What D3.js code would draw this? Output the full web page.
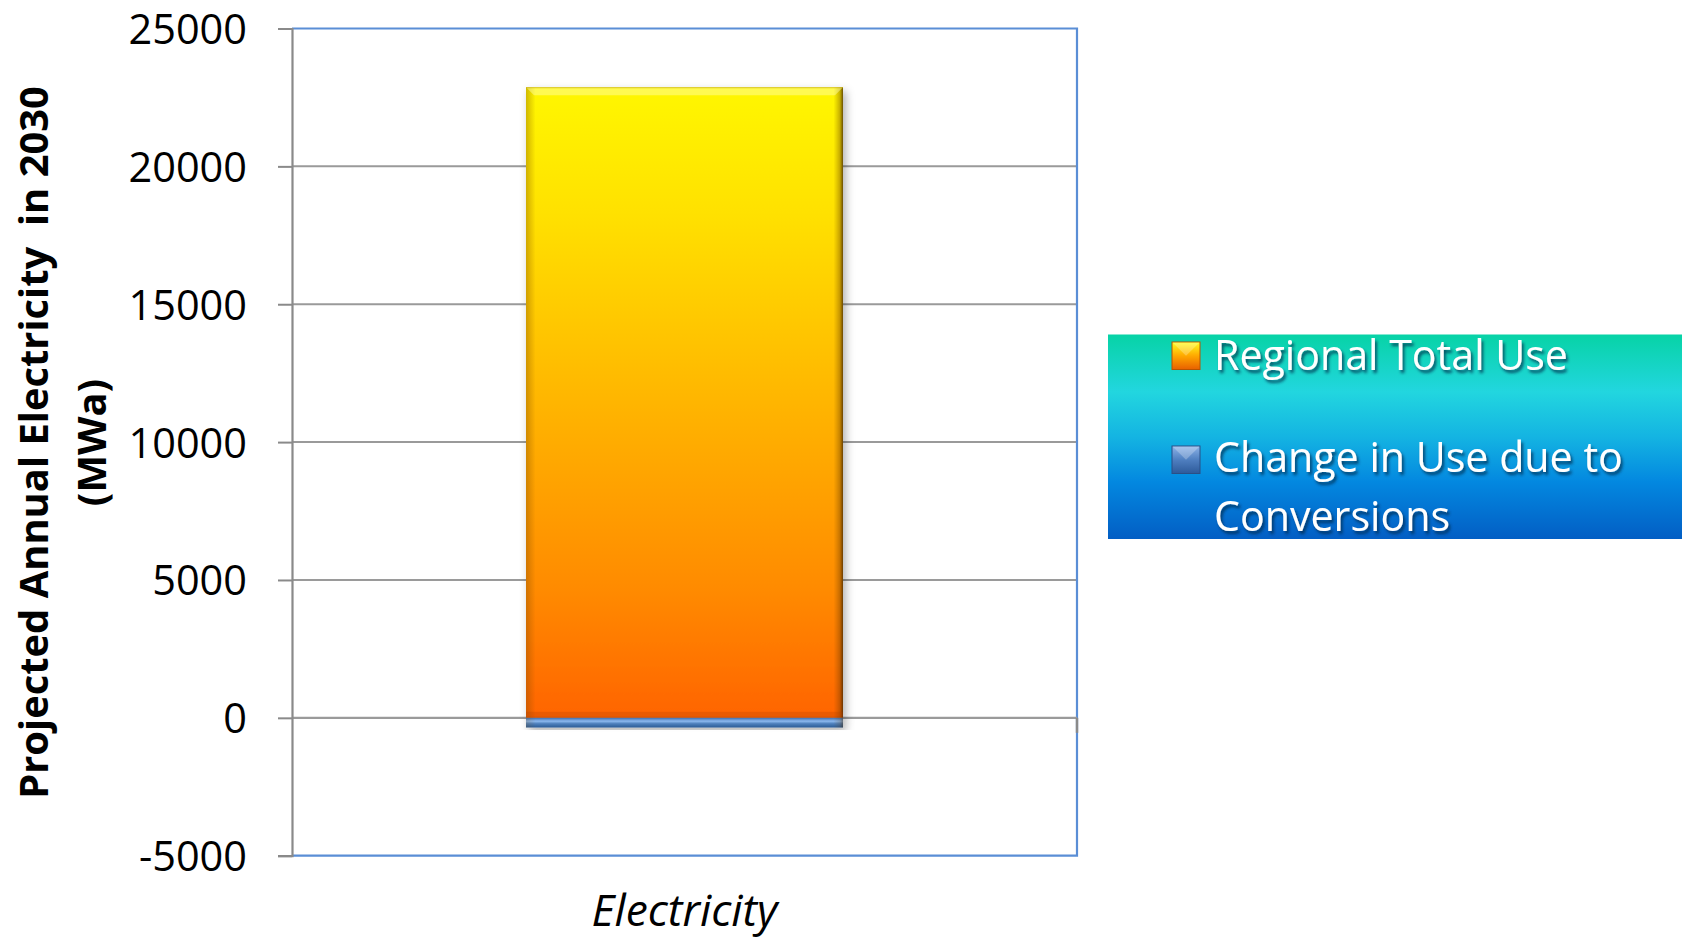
<!DOCTYPE html>
<html>
<head>
<meta charset="utf-8">
<script src="https://cdn.jsdelivr.net/npm/d3@7"></script>
<style>
  html, body { margin: 0; padding: 0; background: #fff; }
  svg { display: block; }
  text { font-family: "Open Sans", "DejaVu Sans", sans-serif; }
</style>
</head>
<body>
<script>
// ---- data ----
const categories = ["Electricity"];
const seriesNames = ["Regional Total Use", "Change in Use due to Conversions"];
const legendLines = [["Regional Total Use"], ["Change in Use due to", "Conversions"]];
const regionalTotalUse = [22870];
const changeInUse = [-350];
const yTicks = [-5000, 0, 5000, 10000, 15000, 20000, 25000];
const yTitleLines = ["Projected Annual Electricity  in 2030", "(MWa)"];

// ---- layout ----
const W = 1682, H = 942;
const plot = { left: 292, right: 1077, top: 28.5, bottom: 855.7 };

const svg = d3.select("body").append("svg").attr("width", W).attr("height", H);
const defs = svg.append("defs");

function fitText(sel, target) {
  sel.style("font-size", "100px");
  const len = sel.node().getComputedTextLength();
  const fs = 100 * target / len;
  sel.style("font-size", fs + "px");
  return fs;
}

// gradients
const gOr = defs.append("linearGradient").attr("id", "gOrange").attr("x1", 0).attr("y1", 0).attr("x2", 0).attr("y2", 1);
[[0, "#fff700"], [0.2, "#ffe100"], [0.5, "#ffb500"], [0.8, "#ff8a00"], [1, "#ff6400"]]
  .forEach(([o, c]) => gOr.append("stop").attr("offset", o).attr("stop-color", c));
const gBl = defs.append("linearGradient").attr("id", "gBlue").attr("x1", 0).attr("y1", 0).attr("x2", 0).attr("y2", 1);
[[0, "#3f6fb0"], [0.35, "#8cb8ee"], [0.6, "#4f81bd"], [1, "#2c5b96"]]
  .forEach(([o, c]) => gBl.append("stop").attr("offset", o).attr("stop-color", c));
const gEdge = defs.append("linearGradient").attr("id", "gEdge").attr("x1", 0).attr("y1", 0).attr("x2", 1).attr("y2", 0);
[[0, "rgba(120,70,0,0.35)"], [0.03, "rgba(120,70,0,0)"], [0.97, "rgba(120,70,0,0)"], [0.99, "rgba(90,50,0,0.35)"], [1, "rgba(70,40,0,0.8)"]]
  .forEach(([o, c]) => gEdge.append("stop").attr("offset", o).attr("stop-color", c));
const gLeg = defs.append("linearGradient").attr("id", "gLegend").attr("x1", 0).attr("y1", 0).attr("x2", 0).attr("y2", 1);
[[0, "#07d3a6"], [0.28, "#22d6df"], [0.5, "#14b4e2"], [0.72, "#0388e0"], [1, "#035ec4"]]
  .forEach(([o, c]) => gLeg.append("stop").attr("offset", o).attr("stop-color", c));
const gMkO = defs.append("linearGradient").attr("id", "gMkO").attr("x1", 0).attr("y1", 0).attr("x2", 0).attr("y2", 1);
[[0, "#ffff20"], [0.5, "#ffa800"], [1, "#e86000"]].forEach(([o, c]) => gMkO.append("stop").attr("offset", o).attr("stop-color", c));
const gMkB = defs.append("linearGradient").attr("id", "gMkB").attr("x1", 0).attr("y1", 0).attr("x2", 0).attr("y2", 1);
[[0, "#8db3e8"], [0.5, "#4f7fc0"], [1, "#2d5a9a"]].forEach(([o, c]) => gMkB.append("stop").attr("offset", o).attr("stop-color", c));

const shadow = defs.append("filter").attr("id", "barShadow").attr("x", "-10%").attr("y", "-10%").attr("width", "130%").attr("height", "130%");
shadow.append("feDropShadow").attr("dx", 3).attr("dy", 4).attr("stdDeviation", 4).attr("flood-color", "#000").attr("flood-opacity", 0.3);
const tshadow = defs.append("filter").attr("id", "txtShadow").attr("x", "-10%").attr("y", "-30%").attr("width", "130%").attr("height", "170%");
tshadow.append("feDropShadow").attr("dx", 2).attr("dy", 3).attr("stdDeviation", 1.6).attr("flood-color", "#02264a").attr("flood-opacity", 0.75);

// scales
const y = d3.scaleLinear().domain([d3.min(yTicks), d3.max(yTicks)]).range([plot.bottom, plot.top]);
const x = d3.scaleBand().domain(categories).range([plot.left, plot.right]).padding(0.4247);

// gridlines
svg.append("g").selectAll("line").data(yTicks.filter(t => t !== 0 && t !== d3.max(yTicks) && t !== d3.min(yTicks)))
  .join("line")
  .attr("x1", plot.left).attr("x2", plot.right)
  .attr("y1", d => y(d)).attr("y2", d => y(d))
  .attr("stroke", "#9a9a9a").attr("stroke-width", 2);

// plot border (top, right, bottom) blue
svg.append("path")
  .attr("d", `M${plot.left},${y(d3.max(yTicks))}H${plot.right}V${y(d3.min(yTicks))}H${plot.left}`)
  .attr("fill", "none").attr("stroke", "#5a8ed6").attr("stroke-width", 2.2);

// zero (category) axis
svg.append("line").attr("x1", plot.left).attr("x2", plot.right).attr("y1", y(0)).attr("y2", y(0))
  .attr("stroke", "#9a9a9a").attr("stroke-width", 2.2);
svg.append("g").selectAll("line").data([plot.right]).join("line")
  .attr("x1", d => d).attr("x2", d => d).attr("y1", y(0)).attr("y2", y(0) + 15)
  .attr("stroke", "#8a8a8a").attr("stroke-width", 2.5);

// y axis
const yAxis = d3.axisLeft(y).tickValues(yTicks).tickSize(14).tickPadding(31).tickFormat(d => String(d));
const ya = svg.append("g").attr("transform", `translate(${plot.left},0)`).call(yAxis);
ya.select(".domain").attr("stroke", "#8a8a8a").attr("stroke-width", 2.2);
ya.selectAll(".tick line").attr("stroke", "#8a8a8a").attr("stroke-width", 2);
const tl = ya.selectAll(".tick text").attr("fill", "#000").attr("font-family", "Open Sans");
let tickFs = 40;
tl.filter(d => d === 25000).each(function () { tickFs = fitText(d3.select(this), 118.5); });
tl.style("font-size", tickFs + "px").attr("dy", "0.36em");

// bars
const bw = x.bandwidth();
function bevelBar(g, x0, y0, w, h, fill, edgeOpacity) {
  g.append("rect").attr("x", x0).attr("y", y0).attr("width", w).attr("height", h)
    .attr("fill", fill).attr("filter", "url(#barShadow)");
  g.append("rect").attr("x", x0).attr("y", y0).attr("width", w).attr("height", h)
    .attr("fill", "url(#gEdge)").attr("opacity", edgeOpacity);
}
const barsG = svg.append("g");
categories.forEach((c, i) => {
  const x0 = x(c);
  const yTop = y(regionalTotalUse[i]);
  bevelBar(barsG, x0, yTop, bw, y(0) - yTop, "url(#gOrange)", 1);
  barsG.append("polygon")
    .attr("points", `${x0},${yTop} ${x0 + bw},${yTop} ${x0 + bw - 8},${yTop + 8} ${x0 + 8},${yTop + 8}`)
    .attr("fill", "rgba(255,255,180,0.45)");
  barsG.append("line").attr("x1", x0).attr("x2", x0 + bw).attr("y1", yTop + 0.5).attr("y2", yTop + 0.5)
    .attr("stroke", "rgba(190,160,0,0.6)").attr("stroke-width", 1);
  barsG.append("rect").attr("x", x0).attr("y", y(0) - 6).attr("width", bw).attr("height", 6)
    .attr("fill", "rgba(170,60,0,0.25)");
  const yB = y(changeInUse[i]);
  bevelBar(barsG, x0, y(0), bw, yB - y(0), "url(#gBlue)", 0.6);
});

// x category label
svg.append("g").selectAll("text").data(categories).join("text")
  .attr("x", d => x(d) + bw / 2).attr("y", 926)
  .attr("text-anchor", "middle").attr("font-style", "italic").attr("fill", "#000")
  .text(d => d)
  .each(function () { fitText(d3.select(this), 186); });

// y title
const yt = svg.append("g").attr("transform", "translate(0,442.5) rotate(-90)");
const yt1 = yt.append("text").attr("x", 0).attr("y", 48).attr("text-anchor", "middle")
  .attr("font-weight", "bold").attr("fill", "#000").style("white-space", "pre").text(yTitleLines[0]);
const ytFs = fitText(yt1, 713);
yt.append("text").attr("x", 0).attr("y", 106).attr("text-anchor", "middle")
  .attr("font-weight", "bold").attr("fill", "#000").style("font-size", ytFs + "px").text(yTitleLines[1]);

// legend
const leg = svg.append("g");
leg.append("rect").attr("x", 1108).attr("y", 334.5).attr("width", W - 1108).attr("height", 539 - 334.5)
  .attr("fill", "url(#gLegend)");
const legItems = [
  { name: seriesNames[0], lines: legendLines[0], fill: "url(#gMkO)", stroke: "#b85400", mkY: 342, base: [370] },
  { name: seriesNames[1], lines: legendLines[1], fill: "url(#gMkB)", stroke: "#2a4f86", mkY: 446, base: [472, 531] }
];
let legFs = null;
legItems.forEach((it, k) => {
  leg.append("rect").attr("x", 1172).attr("y", it.mkY).attr("width", 28).attr("height", 27.5)
    .attr("fill", it.fill).attr("stroke", it.stroke).attr("stroke-width", 1);
  leg.append("polygon")
    .attr("points", `${1172.5},${it.mkY + 0.5} ${1199.5},${it.mkY + 0.5} ${1186},${it.mkY + 13.75}`)
    .attr("fill", "rgba(255,255,255,0.25)");
  it.lines.forEach((ln, j) => {
    const t = leg.append("text").attr("x", 1214).attr("y", it.base[j]).attr("fill", "#fff")
      .attr("filter", "url(#txtShadow)").text(ln);
    if (legFs === null && k === 1 && j === 0) legFs = fitText(t, 409);
    t.attr("class", "legtxt");
  });
});
leg.selectAll("text.legtxt").style("font-size", legFs + "px");
</script>
</body>
</html>
